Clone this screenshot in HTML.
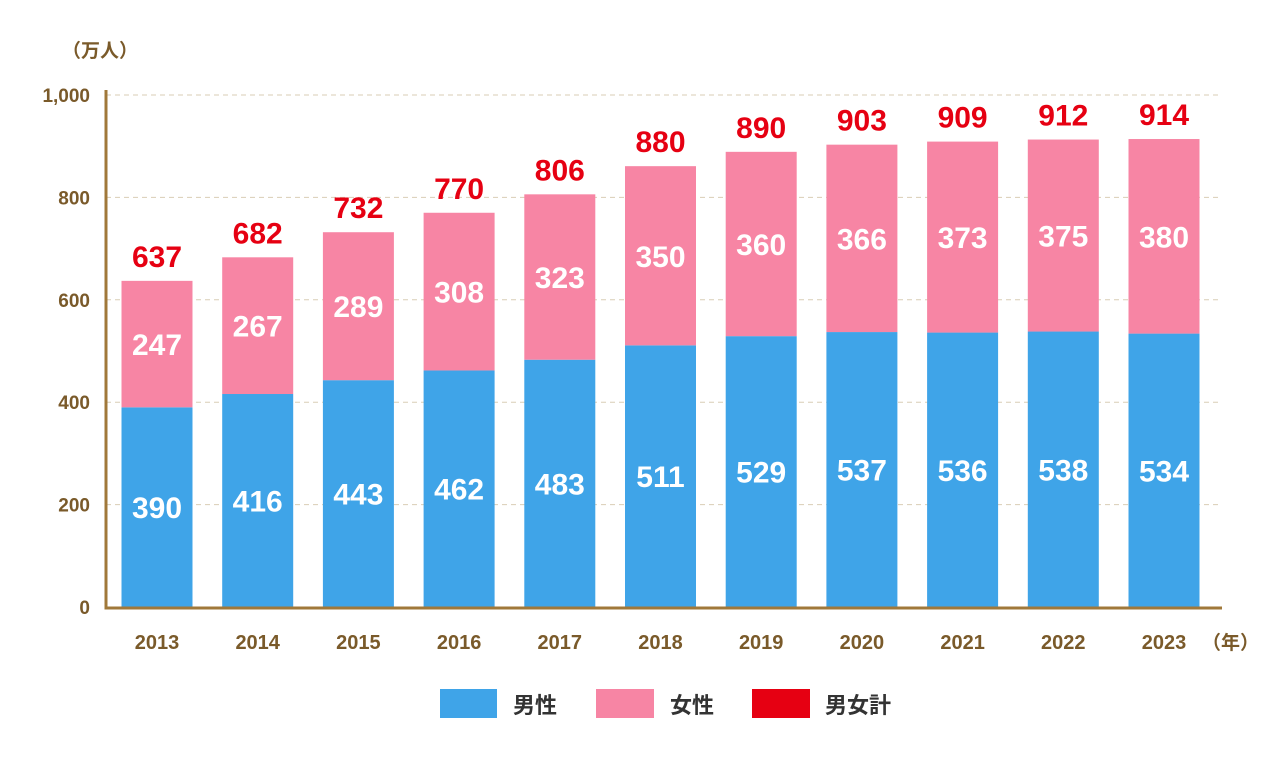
<!DOCTYPE html>
<html><head><meta charset="utf-8"><style>
body{margin:0;background:#fff;font-family:"Liberation Sans","Noto Sans CJK JP",sans-serif;}
</style></head><body>
<svg id="chart" width="1280" height="771" xmlns="http://www.w3.org/2000/svg" font-family="Liberation Sans, Noto Sans CJK JP, sans-serif">
<g id="grid"></g><g id="bars"></g><g id="labels"></g>
<text x="62" y="57" font-size="19" fill="#7a5a2a" font-weight="bold">（万人）</text>
<text x="1202" y="649" font-size="19" fill="#7a5a2a" font-weight="bold">（年）</text>
<g>
<rect x="440" y="689" width="57" height="29" fill="#3fa4e8"/>
<text x="513" y="713" font-size="22" font-weight="bold" fill="#333">男性</text>
<rect x="596" y="689" width="58" height="29" fill="#f785a4"/>
<text x="670" y="713" font-size="22" font-weight="bold" fill="#333">女性</text>
<rect x="752" y="689" width="58" height="29" fill="#e60012"/>
<text x="825" y="713" font-size="22" font-weight="bold" fill="#333">男女計</text>
</g>
</svg>
<script>
const years=["2013","2014","2015","2016","2017","2018","2019","2020","2021","2022","2023"];
const male=[390,416,443,462,483,511,529,537,536,538,534];
const female=[247,267,289,308,323,350,360,366,373,375,380];
const totals=[637,682,732,770,806,880,890,903,909,912,914];
const yTicks=[0,200,400,600,800,1000];
const yTickLabels=["0","200","400","600","800","1,000"];
const NS="http://www.w3.org/2000/svg";
const y0=607,pxPer=0.512,x0=157,step=100.7,bw=71;
const y=v=>y0-v*pxPer, x=i=>x0+i*step;
function mk(tag,attrs,parent,text){const e=document.createElementNS(NS,tag);for(const k in attrs)e.setAttribute(k,attrs[k]);if(text!==undefined)e.textContent=text;parent.appendChild(e);return e;}
const grid=document.getElementById('grid'),bars=document.getElementById('bars'),labels=document.getElementById('labels');
yTicks.forEach((t,i)=>{
  if(t>0){const g=mk('line',{x1:106,x2:1222,y1:y(t),y2:y(t),stroke:'#d9cdb5','stroke-dasharray':'5,4','stroke-width':1},grid);
  
  }
  const tl=mk('text',{x:90,y:y(t)+7,'text-anchor':'end','font-size':19,'font-weight':'bold',fill:'#7a5a2a'},grid,yTickLabels[i]);
  
  
});
years.forEach((yr,i)=>{
  const cx=x(i);
  const m=mk('rect',{x:cx-bw/2,y:y(male[i]),width:bw,height:male[i]*pxPer,fill:'#3fa4e8'},bars);
  
  
  const f=mk('rect',{x:cx-bw/2,y:y(male[i]+female[i]),width:bw,height:female[i]*pxPer,fill:'#f785a4'},bars);
  
  
  const ml=mk('text',{x:cx,y:(y(0)+y(male[i]))/2+11,'text-anchor':'middle','font-size':30,'font-weight':'bold',fill:'#fff'},labels,male[i]);
  
  
  const fl=mk('text',{x:cx,y:(y(male[i])+y(male[i]+female[i]))/2+11,'text-anchor':'middle','font-size':30,'font-weight':'bold',fill:'#fff'},labels,female[i]);
  
  
  const tl=mk('text',{x:cx,y:y(male[i]+female[i])-14,'text-anchor':'middle','font-size':30,'font-weight':'bold',fill:'#e60012'},labels,totals[i]);
  
  
  const xl=mk('text',{x:cx,y:649,'text-anchor':'middle','font-size':20,'font-weight':'bold',fill:'#7a5a2a'},labels,yr);
  
  
});
const ax=mk('line',{x1:106,x2:106,y1:90,y2:608,stroke:'#a0783a','stroke-width':3},labels);


const bx=mk('line',{x1:104.5,x2:1222,y1:608,y2:608,stroke:'#a0783a','stroke-width':3},labels);


</script>
</body></html>
